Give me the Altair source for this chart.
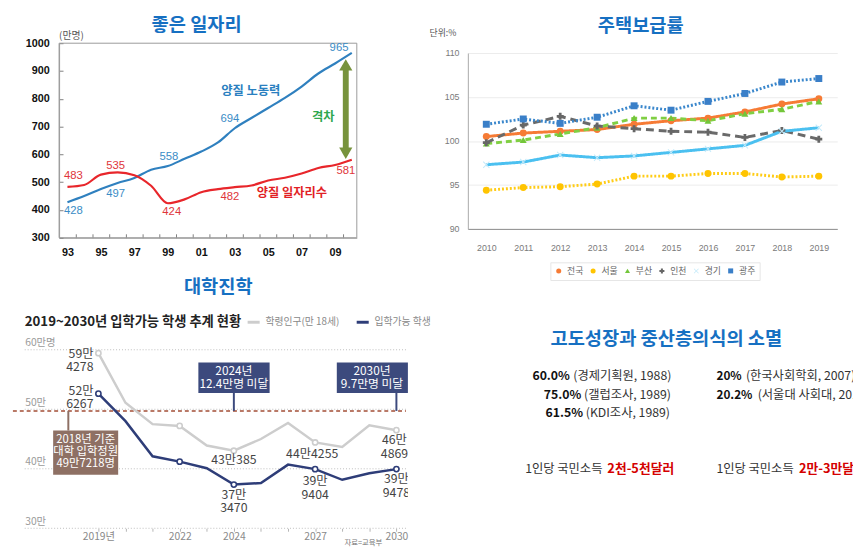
import altair as alt
import pandas as pd

FONT = "Noto Sans CJK KR"
NUMF = "Liberation Sans"
TBLUE = "#1670c2"

# ---------------- Panel 1 : 좋은 일자리 ----------------
p1_title = "좋은 일자리"
p1_unit = "(만명)"
p1_years = list(range(1993, 2011))
p1_labor = [428, 450, 475, 497, 515, 545, 558, 584, 610, 643, 694, 731, 767, 803, 844, 891, 927, 965]
p1_jobs = [483, 490, 527, 535, 525, 487, 424, 438, 464, 475, 482, 488, 506, 516, 531, 551, 562, 581]
p1_series = ["양질 노동력", "양질 일자리수"]
p1_gap = "격차"
p1_yticks = [300, 400, 500, 600, 700, 800, 900, 1000]
p1_xdomain = [1992.5, 2010.3]
p1_ydomain = [300, 1000]

# ---------------- Panel 2 : 주택보급률 ----------------
p2_title = "주택보급률"
p2_unit = "단위:%"
p2_years = list(range(2010, 2020))
p2_regions = ["전국", "서울", "부산", "인천", "경기", "광주"]
p2_national = [100.5, 100.9, 101.1, 101.3, 101.9, 102.3, 102.6, 103.3, 104.2, 104.8]
p2_seoul = [94.4, 94.7, 94.8, 95.1, 96.0, 96.0, 96.3, 96.3, 95.9, 96.0]
p2_busan = [99.7, 100.1, 100.8, 101.5, 102.6, 102.6, 102.3, 103.1, 103.6, 104.5]
p2_incheon = [99.8, 101.8, 102.8, 101.7, 101.4, 101.1, 101.0, 100.4, 101.2, 100.2]
p2_gyeonggi = [97.3, 97.6, 98.4, 98.1, 98.3, 98.7, 99.1, 99.5, 101.1, 101.5]
p2_gwangju = [101.9, 102.5, 102.0, 102.7, 104.0, 103.5, 104.5, 105.4, 106.7, 107.1]
p2_yticks = [90, 95, 100, 105, 110]

# ---------------- Panel 3 : 대학진학 ----------------
p3_title = "대학진학"
p3_subtitle = "2019~2030년 입학가능 학생 추계 현황"
p3_source = "자료=교육부"
p3_years = list(range(2019, 2031))
p3_cohort = [59.4278, 51.1, 47.5, 47.2, 43.9, 43.0385, 45.0, 47.7, 44.4255, 43.65, 47.3, 46.4869]
p3_admit = [52.6267, 48.0, 42.1, 41.2, 40.1, 37.347, 37.6, 40.7, 39.9404, 38.15, 39.25, 39.9478]
p3_series = ["학령인구(만 18세)", "입학가능 학생"]
p3_quota = 49.7218
p3_quota_note = ["2018년 기준", "대학 입학정원"]
p3_gap_notes = [("2024년", "12.4만명 미달"), ("2030년", "9.7만명 미달")]
p3_marker_years = [2019, 2022, 2024, 2027, 2030]
p3_axis_years = [2022, 2024, 2027, 2030]
p3_yticks = [30, 40, 50, 60]

# ---------------- Panel 4 : 고도성장과 중산층의식의 소멸 ----------------
p4_title = "고도성장과 중산층의식의 소멸"
p4_past = [("60.0%", "(경제기획원, 1988)"), ("75.0%", "(갤럽조사, 1989)"), ("61.5%", "(KDI조사, 1989)")]
p4_now = [("20%", "(한국사회학회, 2007)"), ("20.2%", "(서울대 사회대, 2013)")]
p4_income_label = "1인당 국민소득"
p4_income_past = "2천-5천달러"
p4_income_now = "2만-3만달러"


def one(**kw):
    return pd.DataFrame({k: [v] for k, v in kw.items()})


def vtext(s, x, y, **mk):
    return alt.Chart(one(t=s)).mark_text(**mk).encode(
        x=alt.value(x), y=alt.value(y), text="t:N")


# ======================= Panel 1 =======================
W1, H1 = 422, 262
p1_xr = [52, 355]
p1_yr = [229, 31]
half1 = (p1_xr[1] - p1_xr[0]) / (p1_xdomain[1] - p1_xdomain[0]) / 2

X1 = alt.X("x:Q", title=None,
           scale=alt.Scale(domain=p1_xdomain, range=p1_xr, nice=False, zero=False),
           axis=alt.Axis(values=p1_years[:-1], tickOffset=half1, labelOffset=-half1,
                         labelExpr="datum.value % 2 == 1 ? substring(toString(datum.value), 2, 4) : ''",
                         offset=p1_yr[0] - H1, tickSize={"expr": "-4"}, tickColor="#808080",
                         domainColor="#9a9a9a", labelFont=NUMF, labelFontSize=11,
                         labelFontWeight="bold", labelColor="#111", labelPadding=13,
                         labelFlush=False, labelOverlap=False, grid=False))
Y1 = alt.Y("y:Q", title=None,
           scale=alt.Scale(domain=p1_ydomain, range=p1_yr, nice=False, zero=False),
           axis=alt.Axis(values=p1_yticks, format="d", offset=-p1_xr[0], tickSize={"expr": "-4"},
                         tickColor="#808080", domainColor="#9a9a9a", labelFont=NUMF,
                         labelFontSize=11, labelFontWeight="bold", labelColor="#111",
                         labelPadding=14, labelFlush=False, labelOverlap=False, grid=False))

p1_colors = ["#2f80bf", "#e8262b"]
p1_label_colors = ["#3a8cc6", "#e0353a"]
df1 = pd.DataFrame({
    "x": p1_years * 2,
    "y": p1_labor + p1_jobs,
    "s": [p1_series[0]] * len(p1_years) + [p1_series[1]] * len(p1_years),
})
frame1 = alt.Chart(one(x=p1_xdomain[0], x2=p1_xdomain[1], y=p1_ydomain[0], y2=p1_ydomain[1])).mark_rect(
    fillOpacity=0, stroke="#9a9a9a", strokeWidth=1).encode(x=X1, x2="x2", y=Y1, y2="y2")
lines1 = alt.Chart(df1).mark_line(interpolate="monotone", strokeWidth=2.2).encode(
    x=X1, y=Y1, color=alt.Color("s:N", scale=alt.Scale(domain=p1_series, range=p1_colors), legend=None))

# value labels: (series, year, dx, dy)
p1_value_labels = [
    (0, 1993, 6, 9), (0, 1996, -2, 11), (0, 1999, 1, -9), (0, 2003, -5, -9), (0, 2010, -13, -5),
    (1, 1993, 6, -11), (1, 1996, -2, -7), (1, 1999, 4, 9), (1, 2003, -5, 10), (1, 2010, -6, 12),
]
p1_layers = [frame1, lines1]
for si, yr, dx, dy in p1_value_labels:
    vals = p1_labor if si == 0 else p1_jobs
    v = vals[p1_years.index(yr)]
    p1_layers.append(alt.Chart(one(x=yr, y=v, t=str(v))).mark_text(
        dx=dx, dy=dy, fontSize=11.5, font=NUMF, color=p1_label_colors[si]).encode(x=X1, y=Y1, text="t:N"))

# series names and gap marker (annotation positions in data units)
p1_layers.append(alt.Chart(one(x=2003.96, y=827, t=p1_series[0])).mark_text(
    fontSize=12.5, fontWeight="bold", color="#2a7fc0").encode(x=X1, y=Y1, text="t:N"))
p1_layers.append(alt.Chart(one(x=2006.42, y=459, t=p1_series[1])).mark_text(
    fontSize=12.5, fontWeight="bold", color="#e21f26").encode(x=X1, y=Y1, text="t:N"))
p1_layers.append(alt.Chart(one(x=2008.3, y=735, t=p1_gap)).mark_text(
    fontSize=12.5, fontWeight="bold", color="#2fa84f").encode(x=X1, y=Y1, text="t:N"))
arrow_x = 2009.64
arrow_top = p1_labor[-1] - 43
arrow_bot = p1_jobs[-1] + 23
p1_layers.append(alt.Chart(one(x=arrow_x, y=arrow_top, y2=arrow_bot)).mark_rule(
    strokeWidth=6, color="#77933c").encode(x=X1, y=Y1, y2="y2"))
p1_layers.append(alt.Chart(one(x=arrow_x, y=arrow_top)).mark_point(
    shape="triangle-up", filled=True, size=180, opacity=1, color="#77933c").encode(x=X1, y=Y1))
p1_layers.append(alt.Chart(one(x=arrow_x, y=arrow_bot)).mark_point(
    shape="triangle-down", filled=True, size=180, opacity=1, color="#77933c").encode(x=X1, y=Y1))
p1_layers.append(vtext(p1_unit, 52, 24, align="left", fontSize=10, color="#555"))
p1_layers.append(vtext(p1_title, 192, 13, fontSize=19, fontWeight="bold", color=TBLUE))

p1 = alt.layer(*p1_layers).properties(width=W1, height=H1)

# ======================= Panel 2 =======================
W2, H2 = 423, 262
p2_xr = [46, 422]
p2_yr = [220, 41]
X2 = alt.X("x:Q", title=None,
           scale=alt.Scale(domain=[p2_years[0] - 0.5, p2_years[-1] + 0.5], range=p2_xr, nice=False, zero=False),
           axis=alt.Axis(values=p2_years, format="d", offset=p2_yr[0] - H2, ticks=False,
                         domainColor="#8c8c8c", labelFontSize=9, labelColor="#7a7a7a",
                         labelFont="Liberation Sans Narrow, Liberation Sans", labelPadding=15,
                         labelFlush=False, labelOverlap=False, grid=False))
Y2 = alt.Y("y:Q", title=None,
           scale=alt.Scale(domain=[p2_yticks[0], p2_yticks[-1]], range=p2_yr, nice=False, zero=False),
           axis=alt.Axis(values=p2_yticks, offset=-p2_xr[0], ticks=False, domainColor="#a8a8a8",
                         grid=True, gridColor="#ececec", labelFontSize=9, labelColor="#7a7a7a",
                         labelFont="Liberation Sans Narrow, Liberation Sans", labelPadding=9))

p2_all = [p2_national, p2_seoul, p2_busan, p2_incheon, p2_gyeonggi, p2_gwangju]
df2 = pd.DataFrame({
    "x": p2_years * len(p2_regions),
    "y": [v for s in p2_all for v in s],
    "r": [r for r in p2_regions for _ in p2_years],
})
X_PATH = "M-0.8,-1L0,-0.2L0.8,-1L1,-0.8L0.2,0L1,0.8L0.8,1L0,0.2L-0.8,1L-1,0.8L-0.2,0L-1,-0.8Z"
line_colors2 = ["#f67b35", "#ffcc16", "#80cf43", "#6a6a6a", "#4bc0f0", "#3a87cc"]
point_colors2 = ["#f67b35", "#ffc400", "#73c63a", "#666666", "#c4eafa", "#3a7fc8"]
dashes2 = [[1, 0], [2, 2], [6, 4], [8, 5], [1, 0], [2, 2]]
shapes2 = ["circle", "circle", "triangle-up", "cross", X_PATH, "square"]

leg2 = alt.Legend(orient="none", legendX=130, legendY=254, direction="horizontal", title=None,
                  labelFontSize=9, labelColor="#666", symbolSize=26, symbolStrokeWidth=0,
                  columnPadding=5, labelOffset=4, padding=4, strokeColor="#e6e6e6")
lines2 = alt.Chart(df2).mark_line(strokeWidth=3).encode(
    x=X2, y=Y2,
    stroke=alt.Stroke("r:N", scale=alt.Scale(domain=p2_regions, range=line_colors2), legend=leg2),
    strokeDash=alt.StrokeDash("r:N", scale=alt.Scale(domain=p2_regions, range=dashes2), legend=leg2),
    detail="r:N")
points2 = alt.Chart(df2).mark_point(filled=True, opacity=1, size=50).encode(
    x=X2, y=Y2,
    color=alt.Color("r:N", scale=alt.Scale(domain=p2_regions, range=point_colors2), legend=leg2),
    shape=alt.Shape("r:N", scale=alt.Scale(domain=p2_regions, range=shapes2), legend=leg2))

p2 = alt.layer(
    lines2, points2,
    vtext(p2_unit, 7, 21, align="left", fontSize=9, color="#555"),
    vtext(p2_title, 222, 14, fontSize=19, fontWeight="bold", color=TBLUE),
).properties(width=W2, height=H2)

# ======================= Panel 3 =======================
W3, H3 = 407, 282
p3_xr = [92, 395.3]
p3_yr = [262.7, 81]
axis_years_js = "[" + ",".join(str(v) for v in p3_axis_years) + "]"
X3 = alt.X("x:Q", title=None,
           scale=alt.Scale(domain=[p3_years[0], p3_years[-1]], range=p3_xr, nice=False, zero=False),
           axis=alt.Axis(values=p3_years, offset=p3_yr[0] - H3, domain=False, tickSize=3,
                         tickColor="#b5b5b5",
                         labelExpr=f"datum.value == {p3_years[0]} ? '{p3_years[0]}년' : indexof({axis_years_js}, datum.value) >= 0 ? toString(datum.value) : ''",
                         labelFontSize=10.5, labelColor="#8a8a8a", labelPadding=0,
                         labelFlush=False, labelOverlap=False, grid=False))
Y3 = alt.Y("y:Q", title=None,
           scale=alt.Scale(domain=[p3_yticks[0], p3_yticks[-1]], range=p3_yr, nice=False, zero=False),
           axis=alt.Axis(values=p3_yticks, offset=-17, domain=False, ticks=False, grid=False,
                         labelAlign="left", labelBaseline="bottom", labelPadding=0, labelOffset=-2,
                         labelExpr=f"datum.value == {p3_yticks[-1]} ? datum.value + '만명' : datum.value + '만'",
                         labelFontSize=10.5, labelColor="#9a9a9a", labelFlush=False, labelOverlap=False))

p3_colors = ["#cdcdcd", "#2e3d78"]
df3 = pd.DataFrame({
    "x": p3_years * 2,
    "y": p3_cohort + p3_admit,
    "s": [p3_series[0]] * len(p3_years) + [p3_series[1]] * len(p3_years),
})

grid3 = alt.Chart(pd.DataFrame({"y": p3_yticks})).mark_rule(
    strokeDash=[1, 2], color="#bdbdbd", strokeWidth=1).encode(y=Y3, x=alt.value(17), x2=alt.value(405))
quota3 = alt.Chart(one(y=p3_quota)).mark_rule(
    strokeDash=[4, 3], color="#a34e36", strokeWidth=1.5).encode(y=Y3, x=alt.value(5), x2=alt.value(405))
leg3 = alt.Legend(orient="none", legendX=242, legendY=45, direction="horizontal", title=None,
                  symbolType="stroke", symbolStrokeWidth=3, symbolSize=150, labelFontSize=10,
                  labelColor="#888", columnPadding=10, labelOffset=4)
lines3 = alt.Chart(df3).mark_line(strokeWidth=2.5).encode(
    x=X3, y=Y3, color=alt.Color("s:N", scale=alt.Scale(domain=p3_series, range=p3_colors), legend=leg3))

p3_layers = [grid3, quota3, lines3]
for si, vals in enumerate([p3_cohort, p3_admit]):
    dfm = pd.DataFrame({"x": p3_marker_years, "y": [vals[p3_years.index(y)] for y in p3_marker_years]})
    p3_layers.append(alt.Chart(dfm).mark_point(
        shape="circle", filled=False, fill="white", fillOpacity=1, opacity=1, size=28,
        strokeWidth=1.6, stroke=p3_colors[si]).encode(x=X3, y=Y3))

# annotation boxes (data units)
box_navy = "#3c4a7d"
box_brown = "#8e7064"
LH = 13.5
for (yr_txt, gap_txt), cx, px in zip(p3_gap_notes, [2024.0, 2029.1], [2024, 2030]):
    x0, x1 = (2022.69, 2025.32) if px == 2024 else (2027.8, 2030.43)
    p3_layers.append(alt.Chart(one(x=px, y=p3_quota, y2=52.74)).mark_rule(
        color=box_navy, strokeWidth=2).encode(x=X3, y=Y3, y2="y2"))
    p3_layers.append(alt.Chart(one(x=x0, x2=x1, y=52.74, y2=57.85)).mark_rect(
        color=box_navy, clip=True).encode(x=X3, x2="x2", y=Y3, y2="y2"))
    p3_layers.append(alt.Chart(one(x=cx, y=55.3, t=yr_txt + "\n" + gap_txt)).mark_text(
        color="white", fontSize=12, lineBreak="\n", lineHeight=LH, dy=-LH / 2, clip=True).encode(
        x=X3, y=Y3, text="t:N"))

q_man = int(p3_quota)
q_rest = round((p3_quota - q_man) * 10000)
p3_layers.append(alt.Chart(one(x=2017.89, y=p3_quota, y2=46.42)).mark_rule(
    color=box_brown, strokeWidth=2).encode(x=X3, y=Y3, y2="y2"))
p3_layers.append(alt.Chart(one(x=2017.33, x2=2019.73, y=38.99, y2=46.42)).mark_rect(
    color=box_brown).encode(x=X3, x2="x2", y=Y3, y2="y2"))
p3_layers.append(alt.Chart(one(x=2018.53, y=42.76,
                               t="\n".join(p3_quota_note) + f"\n{q_man}만{q_rest}명")).mark_text(
    color="white", fontSize=11.5, lineBreak="\n", lineHeight=12.2, dy=-12.2).encode(
    x=X3, y=Y3, text="t:N"))


def man_label(v, two_lines):
    m = int(v)
    r = round((v - m) * 10000)
    return f"{m}만" + ("\n" if two_lines else "") + str(r)


# (series, year, dx, dy of first line, align, two lines)
p3_value_labels = [
    (0, 2019, -5, 0.5, "right", True), (1, 2019, -5, -3, "right", True),
    (0, 2024, 0, 10, "center", False), (1, 2024, 0, 10.7, "center", True),
    (0, 2027, -3, 12, "center", False), (1, 2027, 0, 12.4, "center", True),
    (0, 2030, -2, 10.4, "center", True), (1, 2030, 0, 10.5, "center", True),
]
for si, yr, dx, dy, al, two in p3_value_labels:
    vals = p3_cohort if si == 0 else p3_admit
    v = vals[p3_years.index(yr)]
    p3_layers.append(alt.Chart(one(x=yr, y=v, t=man_label(v, two))).mark_text(
        dx=dx, dy=dy, align=al, fontSize=12.5, color="#444", lineBreak="\n", lineHeight=LH,
        clip=True).encode(x=X3, y=Y3, text="t:N"))

p3_layers.append(vtext(p3_title, 214, 17, fontSize=19, fontWeight="bold", color=TBLUE))
p3_layers.append(vtext(p3_subtitle, 17, 53, align="left", fontSize=13.5, fontWeight="bold", color="#222"))
p3_layers.append(vtext(p3_source, 381, 282, align="right", baseline="bottom", fontSize=7.5, color="#777"))

p3 = alt.layer(*p3_layers).properties(width=W3, height=H3)

# ======================= Panel 4 =======================
W4, H4 = 438, 282
p4_layers = [vtext(p4_title, 248, 70, fontSize=19, fontWeight="bold", color=TBLUE)]
for (b, n), y, bx, nx in zip(p4_past, [108, 127, 145], [111.7, 123.3, 125], [153.3, 164.3, 166]):
    p4_layers.append(vtext(b, bx, y, align="left", fontSize=12.5, fontWeight="bold", color="#111"))
    p4_layers.append(vtext(n, nx, y, align="left", fontSize=12.5, color="#333"))
for (b, n), y, nx in zip(p4_now, [108, 127], [329, 341]):
    p4_layers.append(vtext(b, 299, y, align="left", fontSize=12, fontWeight="bold", color="#111", clip=True))
    p4_layers.append(vtext(n, nx, y, align="left", fontSize=12.5, color="#333", clip=True))
p4_layers.append(vtext(p4_income_label, 183, 202, align="right", fontSize=12.5, color="#333"))
p4_layers.append(vtext(p4_income_past, 188, 202, align="left", fontSize=13, fontWeight="bold", color="#d40000"))
p4_layers.append(vtext(p4_income_label, 299, 202, align="left", fontSize=12.5, color="#333", clip=True))
p4_layers.append(vtext(p4_income_now, 383, 202, align="left", fontSize=13, fontWeight="bold",
                       color="#d40000", clip=True))
p4 = alt.layer(*p4_layers).properties(width=W4, height=H4)

chart = alt.concat(p1, p2, p3, p4, columns=2, spacing=0, bounds="flush", align="none",
                   padding=0, background="white").resolve_scale(
    color="independent", stroke="independent", shape="independent",
    strokeDash="independent").configure(font=FONT).configure_view(stroke=None)

chart.save("out.html", embed_options={"renderer": "svg", "actions": False})
